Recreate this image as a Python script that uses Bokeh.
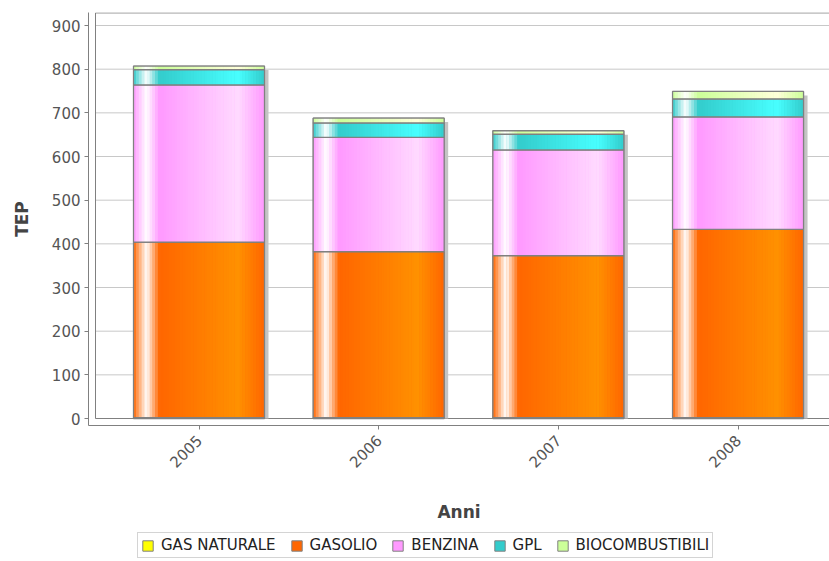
import numpy as np
from math import pi
from bokeh.plotting import figure
from bokeh.layouts import column
from bokeh.models import ColumnDataSource, FixedTicker, Legend, LegendItem, Range1d
from bokeh.embed import file_html
from bokeh.resources import INLINE

# ---------------- data ----------------
years = ["2005", "2006", "2007", "2008"]
series_names = ["GAS NATURALE", "GASOLIO", "BENZINA", "GPL", "BIOCOMBUSTIBILI"]
gas_naturale = [2, 2, 2, 2]
gasolio = [402, 380, 371, 431]
benzina = [360, 262, 242, 258]
gpl = [35, 33, 36, 41]
biocombustibili = [8, 11, 8, 17]
y_ticks = [0, 100, 200, 300, 400, 500, 600, 700, 800, 900]
base_colors = [(255, 255, 0), (255, 102, 0), (255, 153, 255), (51, 204, 204), (204, 255, 153)]

values = [gas_naturale, gasolio, benzina, gpl, biocombustibili]

# ---------------- geometry / style ----------------
BAR_W = 0.729
PX_X = 179.7          # pixels per category
PX_Y = 0.43667        # pixels per unit
N_STRIPS = 48

def hexc(c):
    return "#%02x%02x%02x" % tuple(int(round(v)) for v in c)

def brighter(c):
    out = []
    for v in c:
        if 0 < v < 3:
            v = 3
        out.append(min(int(v / 0.7), 255))
    return tuple(out)

def lerp(a, b, t):
    return tuple(a[k] + (b[k] - a[k]) * t for k in range(3))

def grad(t, c0, c1):
    w = (255, 255, 255)
    if t < 0.10:
        return lerp(c0, w, t / 0.10)
    if t < 0.20:
        return lerp(w, c0, (t - 0.10) / 0.10)
    if t < 0.80:
        return lerp(c0, c1, (t - 0.20) / 0.60)
    return lerp(c1, c0, (t - 0.80) / 0.20)

x_c = np.arange(len(years), dtype=float)
vals = np.array(values, dtype=float)
tops = np.cumsum(vals, axis=0)
bottoms = tops - vals
totals = tops[-1]

p = figure(width=829, height=530, output_backend="svg", toolbar_location=None,
           x_range=Range1d(-0.615, 3.509), y_range=Range1d(-16.0, 929.8),
           min_border_left=88, min_border_right=0, min_border_top=12, min_border_bottom=105)
p.outline_line_color = None
p.background_fill_color = "white"
p.border_fill_color = "white"
p.xgrid.visible = False
p.ygrid.visible = False

# gridlines and plot box
x_box_l = -0.576
p.segment(x0=[x_box_l] * len(y_ticks), x1=[3.7] * len(y_ticks), y0=y_ticks, y1=y_ticks,
          line_color="#c8c8c8", line_width=1)
p.quad(left=[x_box_l], right=[3.7], bottom=[0], top=[928.8], fill_color=None,
       line_color="#808080", line_width=1)

# shadows
p.vbar(x=x_c + 4.0 / PX_X, width=BAR_W, bottom=0, top=totals - 4.0 / PX_Y,
       fill_color="#c4c4c4", line_color=None)

for s, name in enumerate(series_names):
    c0 = base_colors[s]
    c1 = brighter(c0)
    p.vbar(x=x_c, width=BAR_W, bottom=bottoms[s], top=tops[s],
           fill_color=hexc(c0), line_color="#808080", line_width=1)
    xs, bs, ts, cs = [], [], [], []
    for j in range(len(years)):
        for k in range(N_STRIPS):
            t = (k + 0.5) / N_STRIPS
            xs.append(x_c[j] - BAR_W / 2 + t * BAR_W)
            bs.append(bottoms[s][j])
            ts.append(tops[s][j])
            cs.append(hexc(grad(t, c0, c1)))
    src = ColumnDataSource(dict(x=xs, bottom=bs, top=ts, color=cs))
    p.vbar(x="x", bottom="bottom", top="top", width=BAR_W / N_STRIPS * 1.15,
           fill_color="color", line_color=None, source=src)
    p.vbar(x=x_c, width=BAR_W, bottom=bottoms[s], top=tops[s],
           fill_color=None, line_color="#808080", line_width=1.3)

# axes
p.yaxis.ticker = FixedTicker(ticks=y_ticks)
p.yaxis.axis_label = "TEP"
p.xaxis.ticker = FixedTicker(ticks=list(x_c))
p.xaxis.major_label_overrides = {i: y for i, y in enumerate(years)}
p.xaxis.major_label_orientation = pi / 4
p.xaxis.axis_label = "Anni"
for ax in (p.xaxis, p.yaxis):
    ax.axis_line_color = "#808080"
    ax.major_tick_line_color = "#808080"
    ax.minor_tick_line_color = None
    ax.major_tick_out = 4
    ax.major_tick_in = 0
    ax.major_label_text_font = "DejaVu Sans"
    ax.major_label_text_font_size = "15px"
    ax.major_label_text_color = "#555555"
    ax.axis_label_text_font = "DejaVu Sans"
    ax.axis_label_text_font_style = "bold"
    ax.axis_label_text_font_size = "17px"
    ax.axis_label_text_color = "#444444"
p.yaxis.major_label_standoff = 4
p.yaxis.axis_label_standoff = 17
p.xaxis.major_label_standoff = 8
p.xaxis.axis_label_standoff = 26

# legend in its own strip below the chart (frames are aligned with the chart's)
lf = figure(width=829, height=31, output_backend="svg", toolbar_location=None,
            x_range=Range1d(0, 1), y_range=Range1d(0, 1),
            min_border=0, min_border_left=0, min_border_right=0,
            min_border_top=0, min_border_bottom=0)
lf.axis.visible = False
lf.grid.visible = False
lf.outline_line_color = None
lf.border_fill_color = "white"
legend_items = []
for s, name in enumerate(series_names):
    # single off-range sample so the legend swatch is drawn
    r = lf.vbar(x=[-5.0], width=0.1, bottom=[0.0], top=[0.0], fill_color=hexc(base_colors[s]),
                line_color="#808080", line_width=1)
    legend_items.append(LegendItem(label=name, renderers=[r]))
legend = Legend(items=legend_items, orientation="horizontal", location=(49, 3),
                glyph_width=13, glyph_height=13, label_standoff=7, spacing=14,
                padding=3, margin=0, border_line_color="#aaaaaa",
                background_fill_color="white", label_text_font="DejaVu Sans",
                label_text_font_size="15px", label_text_color="#222222",
                label_height=13)
lf.add_layout(legend, "center")

layout = column(p, lf, spacing=0)
open("out.html", "w").write(file_html(layout, INLINE))
